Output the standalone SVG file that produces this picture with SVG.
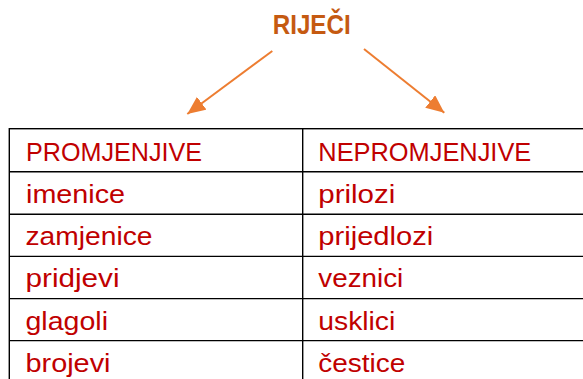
<svg xmlns="http://www.w3.org/2000/svg" width="583" height="379" viewBox="0 0 583 379">
  <style>
    .cell { font-family: "Liberation Sans", Arial, sans-serif; font-size: 26px; fill: #C00000; }
    .title { font-family: "Liberation Sans", Arial, sans-serif; font-size: 28px; font-weight: bold; fill: #C55A11; }
    .grid { stroke: #000000; stroke-width: 1.4; fill: none; }
    .conn { stroke: #ED7D31; stroke-width: 2; fill: none; }
  </style>
  <defs>
    <marker id="arrow" markerUnits="userSpaceOnUse" markerWidth="20" markerHeight="18" refX="18" refY="8" orient="auto">
      <path d="M0,0 L18,8 L0,16 Z" fill="#ED7D31"/>
    </marker>
  </defs>
  <rect width="583" height="379" fill="#FFFFFF"/>

  <g id="title">
    <text class="title" x="272.7" y="33.5" textLength="78" lengthAdjust="spacingAndGlyphs">RIJEČI</text>
  </g>

  <g id="connectors">
    <line class="conn" x1="272.3" y1="51" x2="187.3" y2="114" marker-end="url(#arrow)"/>
    <line class="conn" x1="364" y1="49" x2="444.3" y2="112.7" marker-end="url(#arrow)"/>
  </g>

  <g id="table">
    <rect class="grid" x="9.3" y="128.7" width="590" height="260"/>
    <line class="grid" x1="302.7" y1="128.7" x2="302.7" y2="379"/>
    <line class="grid" x1="9.3" y1="171.7" x2="583" y2="171.7"/>
    <line class="grid" x1="9.3" y1="214.2" x2="583" y2="214.2"/>
    <line class="grid" x1="9.3" y1="256.4" x2="583" y2="256.4"/>
    <line class="grid" x1="9.3" y1="298.6" x2="583" y2="298.6"/>
    <line class="grid" x1="9.3" y1="340.6" x2="583" y2="340.6"/>
  </g>

  <g id="col-promjenjive">
    <text class="cell" x="26" y="160.7" textLength="176" lengthAdjust="spacingAndGlyphs">PROMJENJIVE</text>
    <text class="cell" x="26" y="202.9" textLength="99" lengthAdjust="spacingAndGlyphs">imenice</text>
    <text class="cell" x="25.5" y="245.2" textLength="127" lengthAdjust="spacingAndGlyphs">zamjenice</text>
    <text class="cell" x="25.5" y="287.4" textLength="94" lengthAdjust="spacingAndGlyphs">pridjevi</text>
    <text class="cell" x="25.5" y="329.6" textLength="82.5" lengthAdjust="spacingAndGlyphs">glagoli</text>
    <text class="cell" x="25.5" y="371.8" textLength="85" lengthAdjust="spacingAndGlyphs">brojevi</text>
  </g>

  <g id="col-nepromjenjive">
    <text class="cell" x="318.3" y="160.7" textLength="213" lengthAdjust="spacingAndGlyphs">NEPROMJENJIVE</text>
    <text class="cell" x="318.3" y="202.9" textLength="77" lengthAdjust="spacingAndGlyphs">prilozi</text>
    <text class="cell" x="318.3" y="245.2" textLength="115" lengthAdjust="spacingAndGlyphs">prijedlozi</text>
    <text class="cell" x="318.3" y="287.4" textLength="85" lengthAdjust="spacingAndGlyphs">veznici</text>
    <text class="cell" x="318.3" y="329.6" textLength="77" lengthAdjust="spacingAndGlyphs">usklici</text>
    <text class="cell" x="318.3" y="371.8" textLength="87" lengthAdjust="spacingAndGlyphs">čestice</text>
  </g>
</svg>
